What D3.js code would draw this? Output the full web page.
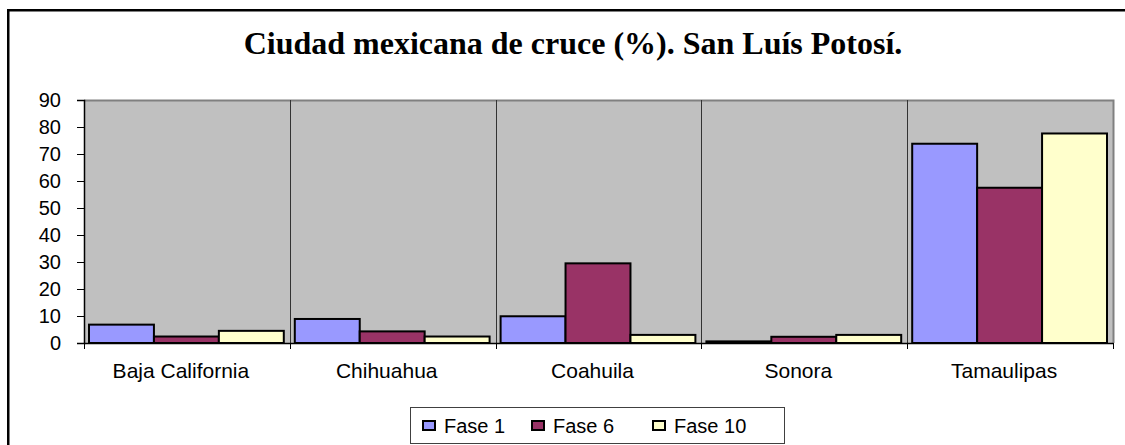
<!DOCTYPE html>
<html><head><meta charset="utf-8">
<script src="https://cdn.jsdelivr.net/npm/d3@7"></script>
<style>body{margin:0;background:#fff;} svg{display:block;}</style>
</head><body>
<svg id="c" width="1125" height="445"></svg>
<script>
const categories = ["Baja California","Chihuahua","Coahuila","Sonora","Tamaulipas"];
const seriesNames = ["Fase 1","Fase 6","Fase 10"];
const fase1 = [6.8, 8.9, 9.9, 0.6, 73.8];
const fase6 = [2.4, 4.3, 29.5, 2.3, 57.5];
const fase10 = [4.5, 2.4, 3.0, 3.0, 77.6];
const yTicks = [0,10,20,30,40,50,60,70,80,90];
const title = "Ciudad mexicana de cruce (%). San Luís Potosí.";
const colors = ["#9999FF","#993366","#FFFFCC"];

const series = [fase1, fase6, fase10];
const svg = d3.select("#c");
const L = 84, R = 1113, T = 100, B = 343;

// frame
svg.append("rect").attr("x",8.25).attr("y",10.25).attr("width",1200).attr("height",500)
  .attr("fill","none").attr("stroke","#000").attr("stroke-width",2.5);

// title
svg.append("text").attr("x",573).attr("y",54).attr("text-anchor","middle")
  .attr("font-family","'Liberation Serif','Times New Roman',serif").attr("font-weight","bold")
  .attr("font-size",32).text(title);

const x0 = d3.scaleBand().domain(categories).range([L,R]).paddingInner(0).paddingOuter(0);
const x1 = d3.scaleBand().domain(seriesNames).range([5, x0.bandwidth()-6]).padding(0);
const y = d3.scaleLinear().domain([0,90]).range([B,T]);

// plot area
svg.append("rect").attr("x",L).attr("y",T).attr("width",R-L).attr("height",B-T).attr("fill","#C0C0C0");
svg.append("path").attr("d",`M${L},${T+0.5}H${R+0.5}V${B}`).attr("fill","none").attr("stroke","#808080").attr("stroke-width",2);

// vertical category gridlines
const bounds = categories.map(c=>x0(c)).concat([R]);
svg.append("g").selectAll("line").data(bounds.slice(1,-1)).join("line")
  .attr("x1",d=>Math.round(d)+0.5).attr("x2",d=>Math.round(d)+0.5).attr("y1",T).attr("y2",B)
  .attr("stroke","#333").attr("stroke-width",1);

// bars
const gCat = svg.append("g").selectAll("g").data(categories).join("g")
  .attr("transform",c=>`translate(${x0(c)},0)`);
gCat.selectAll("rect").data((c,i)=>seriesNames.map((s,j)=>({s, v:series[j][i], j}))).join("rect")
  .attr("x",d=>x1(d.s)).attr("width",x1.bandwidth())
  .attr("y",d=>y(d.v)).attr("height",d=>y(0)-y(d.v))
  .attr("fill",d=>colors[d.j]).attr("stroke","#000").attr("stroke-width",2);

// y axis
const yAxis = d3.axisLeft(y).tickValues(yTicks).tickSize(7).tickPadding(16);
const ga = svg.append("g").attr("transform",`translate(${L},0)`).call(yAxis);
ga.select(".domain").attr("stroke","#000").attr("stroke-width",1.5);
ga.selectAll("text").attr("font-family","'Liberation Sans',Arial,sans-serif").attr("font-size",20).attr("fill","#000");
ga.selectAll(".tick line").attr("stroke","#000");

// x axis
const xAxis = d3.axisBottom(x0).tickSize(0).tickPadding(20);
const gx = svg.append("g").attr("transform",`translate(0,${B})`).call(xAxis);
gx.select(".domain").attr("stroke","#000").attr("stroke-width",1.5);
gx.selectAll("text").attr("font-family","'Liberation Sans',Arial,sans-serif").attr("font-size",21).attr("fill","#000").attr("dx",-6);
svg.append("g").selectAll("line").data(bounds).join("line")
  .attr("x1",d=>Math.round(d)+0.5).attr("x2",d=>Math.round(d)+0.5).attr("y1",B).attr("y2",B+6)
  .attr("stroke","#000").attr("stroke-width",1);

// legend
const lg = svg.append("g");
lg.append("rect").attr("x",410.5).attr("y",407.5).attr("width",374).attr("height",36)
  .attr("fill","#fff").attr("stroke","#404040").attr("stroke-width",1);
const legX = [423, 532, 653];
seriesNames.forEach((s,j)=>{
  lg.append("rect").attr("x",legX[j]).attr("y",421).attr("width",12).attr("height",9)
    .attr("fill",colors[j]).attr("stroke","#000").attr("stroke-width",2);
  lg.append("text").attr("x",legX[j]+21).attr("y",433)
    .attr("font-family","'Liberation Sans',Arial,sans-serif").attr("font-size",20).text(s);
});
</script>
</body></html>
